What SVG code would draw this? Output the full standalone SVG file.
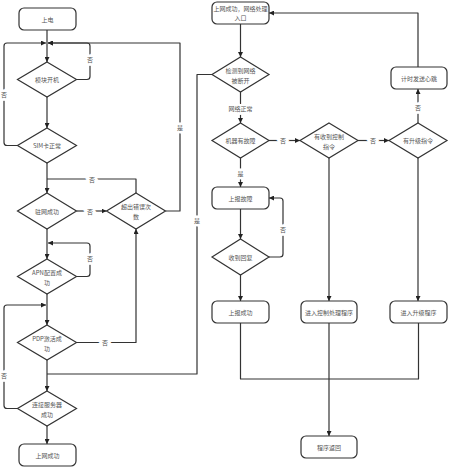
<svg xmlns="http://www.w3.org/2000/svg" width="450" height="470" viewBox="0 0 450 470">
<style>
.n{fill:#fff;stroke:#333;stroke-width:1.2}
.c{fill:none;stroke:#333;stroke-width:1.2;stroke-linejoin:round}
.t{font-family:"Noto Sans CJK SC","Liberation Sans",sans-serif;font-size:6px;fill:#555;text-anchor:middle;dominant-baseline:central}
.l{font-family:"Noto Sans CJK SC","Liberation Sans",sans-serif;font-size:6px;fill:#555;text-anchor:middle;dominant-baseline:central;stroke:#fff;stroke-width:5;paint-order:stroke}
</style>
<defs>
<marker id="a" viewBox="0 0 6 6" refX="6" refY="3" markerWidth="5" markerHeight="5" markerUnits="userSpaceOnUse" orient="auto">
<path d="M0,0 L6,3 L0,6 z" fill="#222"/>
</marker>
</defs>
<rect width="450" height="470" fill="#fff"/>
<g id="connectors">
<path class="c" d="M47,30 V62" marker-end="url(#a)"/>
<path class="c" d="M76.5,79.5 H87 Q90,79.5 90,76.5 V46 Q90,43 87,43 H48" marker-end="url(#a)"/>
<path class="c" d="M17.5,145.5 H7 Q4,145.5 4,142.5 V46 Q4,43 7,43 H46" marker-end="url(#a)"/>
<path class="c" d="M165.5,211 H180 V43 H48" marker-end="url(#a)"/>
<path class="c" d="M47,97 V128" marker-end="url(#a)"/>
<path class="c" d="M47,163 V193" marker-end="url(#a)"/>
<path class="c" d="M136,193 V179 H47"/>
<path class="c" d="M76.5,211 H106.5" marker-end="url(#a)"/>
<path class="c" d="M47,229 V259" marker-end="url(#a)"/>
<path class="c" d="M76.5,276.5 H87 Q90,276.5 90,273.5 V246 Q90,243 87,243 H48" marker-end="url(#a)"/>
<path class="c" d="M47,294 V325" marker-end="url(#a)"/>
<path class="c" d="M17.5,408.5 H7 Q4,408.5 4,405.5 V308 Q4,305 7,305 H46" marker-end="url(#a)"/>
<path class="c" d="M76.5,342.5 H136 V229" marker-end="url(#a)"/>
<path class="c" d="M47,360 V391" marker-end="url(#a)"/>
<path class="c" d="M212,74.5 H197 V374 H47"/>
<path class="c" d="M47,426 V444" marker-end="url(#a)"/>
<path class="c" d="M240.5,24 V57" marker-end="url(#a)"/>
<path class="c" d="M240.5,92 V123" marker-end="url(#a)"/>
<path class="c" d="M269,140.5 H300" marker-end="url(#a)"/>
<path class="c" d="M240.5,158 V187" marker-end="url(#a)"/>
<path class="c" d="M240.5,209 V239" marker-end="url(#a)"/>
<path class="c" d="M269,257 H280 Q283,257 283,254 V201 Q283,198 280,198 H269" marker-end="url(#a)"/>
<path class="c" d="M240.5,275 V301" marker-end="url(#a)"/>
<path class="c" d="M358,140.5 H389" marker-end="url(#a)"/>
<path class="c" d="M418,123 V89" marker-end="url(#a)"/>
<path class="c" d="M418,67 V13 H269" marker-end="url(#a)"/>
<path class="c" d="M329,158 V301" marker-end="url(#a)"/>
<path class="c" d="M418,158 V301" marker-end="url(#a)"/>
<path class="c" d="M240.5,323 V379 H418.5 V323"/>
<path class="c" d="M329,323 V436" marker-end="url(#a)"/>
<text class="l" x="90" y="59">否</text>
<text class="l" x="4" y="94">否</text>
<text class="l" x="180" y="127">是</text>
<text class="l" x="92" y="179">否</text>
<text class="l" x="90" y="211">否</text>
<text class="l" x="90" y="258">否</text>
<text class="l" x="105" y="342.5">否</text>
<text class="l" x="4" y="375">否</text>
<text class="l" x="197" y="220">是</text>
<text class="l" x="240.5" y="108">网络正常</text>
<text class="l" x="283" y="140.5">否</text>
<text class="l" x="240.5" y="173">是</text>
<text class="l" x="283" y="229">否</text>
<text class="l" x="373" y="140.5">否</text>
<text class="l" x="418" y="107">否</text>
</g>
<g id="n_power"><rect class="n" x="19" y="8" width="57" height="22" rx="5"/><text class="t" x="47.5" y="19">上电</text></g>
<g id="n_boot"><polygon class="n" points="47,62 76.5,79.5 47,97 17.5,79.5"/><text class="t" x="47" y="79.5">模块开机</text></g>
<g id="n_sim"><polygon class="n" points="47,128 76.5,145.5 47,163 17.5,145.5"/><text class="t" x="47" y="145.5">SIM卡正常</text></g>
<g id="n_reg"><polygon class="n" points="47,193 76.5,211 47,229 17.5,211"/><text class="t" x="47" y="211">驻网成功</text></g>
<g id="n_err"><polygon class="n" points="136,193 165.5,211 136,229 106.5,211"/><text class="t" x="136" y="206">超出错误次</text><text class="t" x="136" y="216">数</text></g>
<g id="n_apn"><polygon class="n" points="47,259 76.5,276.5 47,294 17.5,276.5"/><text class="t" x="47" y="272">APN配置成</text><text class="t" x="47" y="282">功</text></g>
<g id="n_pdp"><polygon class="n" points="47,325 76.5,342.5 47,360 17.5,342.5"/><text class="t" x="47" y="338">PDP激活成</text><text class="t" x="47" y="348">功</text></g>
<g id="n_conn"><polygon class="n" points="47,391 76.5,408.5 47,426 17.5,408.5"/><text class="t" x="47" y="404">连接服务器</text><text class="t" x="47" y="414">成功</text></g>
<g id="n_online"><rect class="n" x="19" y="444" width="57" height="22" rx="5"/><text class="t" x="47.5" y="455">上网成功</text></g>
<g id="n_entry"><rect class="n" x="212" y="2" width="57" height="22" rx="5"/><text class="t" x="240.5" y="8.5">上网成功，网络处理</text><text class="t" x="240.5" y="17.5">入口</text></g>
<g id="n_detect"><polygon class="n" points="240.5,57 269,74.5 240.5,92 212,74.5"/><text class="t" x="240.5" y="70">检测到网络</text><text class="t" x="240.5" y="80">被断开</text></g>
<g id="n_fault"><polygon class="n" points="240.5,123 269,140.5 240.5,158 212,140.5"/><text class="t" x="240.5" y="140.5">机器有故障</text></g>
<g id="n_report"><rect class="n" x="212" y="187" width="57" height="22" rx="5"/><text class="t" x="240.5" y="198">上报故障</text></g>
<g id="n_reply"><polygon class="n" points="240.5,239 269,257 240.5,275 212,257"/><text class="t" x="240.5" y="257">收到回复</text></g>
<g id="n_reportok"><rect class="n" x="212" y="301" width="57" height="22" rx="5"/><text class="t" x="240.5" y="312">上报成功</text></g>
<g id="n_ctrlq"><polygon class="n" points="329,123 358,140.5 329,158 300,140.5"/><text class="t" x="329" y="136">有收到控制</text><text class="t" x="329" y="146">指令</text></g>
<g id="n_upq"><polygon class="n" points="418,123 447,140.5 418,158 389,140.5"/><text class="t" x="418" y="140.5">有升级指令</text></g>
<g id="n_heart"><rect class="n" x="391" y="67" width="56" height="22" rx="5"/><text class="t" x="419" y="78">计时发送心跳</text></g>
<g id="n_ctrl"><rect class="n" x="301" y="301" width="56" height="22" rx="5"/><text class="t" x="329" y="312">进入控制处理程序</text></g>
<g id="n_up"><rect class="n" x="390" y="301" width="57" height="22" rx="5"/><text class="t" x="418.5" y="312">进入升级程序</text></g>
<g id="n_ret"><rect class="n" x="301" y="436" width="56" height="22" rx="5"/><text class="t" x="329" y="447">程序返回</text></g>
</svg>
